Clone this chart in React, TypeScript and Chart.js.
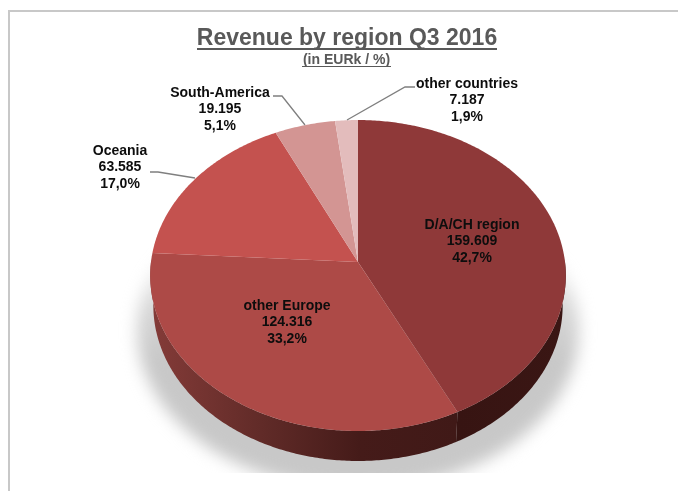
import React, { useEffect, useRef } from "react";
import { Chart, registerables } from "chart.js";

Chart.register(...registerables);

const regions = ["D/A/CH region", "other Europe", "Oceania", "South-America", "other countries"];
const revenue = [159609, 124316, 63585, 19195, 7187];
const revenueLabels = ["159.609", "124.316", "63.585", "19.195", "7.187"];
const percentLabels = ["42,7%", "33,2%", "17,0%", "5,1%", "1,9%"];
const sliceColors = ["#8F3939", "#AD4A47", "#C4524F", "#D39593", "#E3BCBC"];

const chartTitle = "Revenue by region Q3 2016";
const chartSubtitle = "(in EURk / %)";

const labelCenters = [
  [472, 224],
  [287, 305],
  [120, 150],
  [220, 92],
  [467, 83],
];
const leaderLines = [
  null,
  null,
  [[150, 172], [158, 172], [195, 178]],
  [[273, 96], [282, 96], [305, 125]],
  [[415, 87], [405, 87], [347, 120]],
];

const TILT = 0.7454;
const PERSPECTIVE = 0.0868;
const DEPTH = 30;

function project(arc: any, theta: number, dy = 0, shrink = 1) {
  const u = Math.cos(theta);
  const v = Math.sin(theta);
  const s = 1 / (1 - PERSPECTIVE * v);
  return {
    x: arc.x + arc.outerRadius * shrink * u * s,
    y: arc.y + arc.outerRadius * TILT * v * s + dy,
  };
}

function tracePath(ctx: CanvasRenderingContext2D, arc: any, from: number, to: number, dy = 0, shrink = 1, move = true) {
  const n = Math.max(2, Math.ceil(Math.abs(to - from) * 90));
  for (let i = 0; i <= n; i++) {
    const p = project(arc, from + ((to - from) * i) / n, dy, shrink);
    if (i === 0 && move) ctx.moveTo(p.x, p.y);
    else ctx.lineTo(p.x, p.y);
  }
}

const pie3d = {
  id: "pie3d",
  beforeDatasetDraw(chart: any, args: any) {
    const ctx: CanvasRenderingContext2D = chart.ctx;
    const arcs = args.meta.data;
    const first = arcs[0];

    // soft drop shadow under the disc
    ctx.save();
    ctx.beginPath();
    ctx.rect(0, 0, chart.width, 473);
    ctx.clip();
    ctx.filter = "blur(8px)";
    const shade = ctx.createLinearGradient(0, 250, 0, 360);
    shade.addColorStop(0, "rgba(200,200,200,0)");
    shade.addColorStop(0.5, "rgba(200,200,200,0.7)");
    shade.addColorStop(1, "rgba(200,200,200,1)");
    ctx.fillStyle = shade;
    ctx.beginPath();
    ctx.ellipse(first.x, first.y + 68, first.outerRadius + 14, first.outerRadius * TILT + 5, 0, 0, Math.PI * 2);
    ctx.fill();
    ctx.restore();

    // side wall
    const wallStops = [
      [[0, "#3A1614"], [1, "#371412"]],
      [[0, "#401917"], [0.32, "#451B19"], [0.62, "#5F2A27"], [1, "#843B38"]],
    ];
    arcs.forEach((arc: any, i: number) => {
      const from = Math.max(arc.startAngle, 0 - 0.02);
      const to = Math.min(arc.endAngle, Math.PI + 0.02);
      if (to <= from || !wallStops[i]) return;
      const a = project(arc, from);
      const b = project(arc, to);
      const g = ctx.createLinearGradient(a.x, 0, b.x, 0);
      wallStops[i].forEach(([o, c]: any) => g.addColorStop(o, c));
      ctx.fillStyle = g;
      ctx.beginPath();
      tracePath(ctx, arc, from, to);
      tracePath(ctx, arc, to, from, DEPTH, 0.985, false);
      ctx.closePath();
      ctx.fill();
    });

    // top faces, from the angles the pie controller computed
    arcs.forEach((arc: any) => {
      ctx.fillStyle = arc.options.backgroundColor;
      ctx.beginPath();
      ctx.moveTo(arc.x, arc.y);
      tracePath(ctx, arc, arc.startAngle, arc.endAngle, 0, 1, false);
      ctx.closePath();
      ctx.fill();
    });
    return false;
  },
  afterDraw(chart: any) {
    const ctx: CanvasRenderingContext2D = chart.ctx;
    ctx.save();
    ctx.textAlign = "center";
    ctx.textBaseline = "alphabetic";

    ctx.fillStyle = "#595959";
    ctx.font = 'bold 23px "Liberation Sans"';
    ctx.fillText(chartTitle, 347, 45);
    ctx.fillRect(197, 48, 300, 2);
    ctx.font = 'bold 14px "Liberation Sans"';
    ctx.fillText(chartSubtitle, 346.5, 64);
    ctx.fillRect(302, 66, 89, 1);

    ctx.strokeStyle = "#7F7F7F";
    ctx.lineWidth = 1.3;
    leaderLines.forEach((line) => {
      if (!line) return;
      ctx.beginPath();
      line.forEach(([x, y], i) => (i === 0 ? ctx.moveTo(x, y) : ctx.lineTo(x, y)));
      ctx.stroke();
    });

    ctx.fillStyle = "#0D0D0D";
    ctx.font = 'bold 14px "Liberation Sans"';
    regions.forEach((name, i) => {
      const [x, y] = labelCenters[i];
      [name, revenueLabels[i], percentLabels[i]].forEach((t, j) => {
        ctx.fillText(t, x, y + j * 16.3 + 5);
      });
    });
    ctx.restore();
  },
};

export default function App() {
  const ref = useRef<HTMLCanvasElement>(null);
  useEffect(() => {
    const chart = new Chart(ref.current!, {
      type: "pie",
      data: {
        labels: regions,
        datasets: [{ data: revenue, backgroundColor: sliceColors, borderWidth: 0 }],
      },
      options: {
        animation: false,
        responsive: false,
        events: [],
        layout: { padding: { left: 151, right: 113, top: 55, bottom: 22 } },
        plugins: { legend: { display: false }, tooltip: { enabled: false }, title: { display: false } },
      },
      plugins: [pie3d],
    });
    return () => chart.destroy();
  }, []);
  return (
    <div style={{ position: "fixed", left: 0, top: 0, width: 678, height: 491, overflow: "hidden", background: "#fff" }}>
      <canvas ref={ref} width={678} height={491} style={{ display: "block", filter: "blur(0.45px)" }} />
      <div style={{ position: "absolute", left: 8, top: 10, right: 0, bottom: 0, borderTop: "2px solid #C8C8C8", borderLeft: "2px solid #C8C8C8" }} />
    </div>
  );
}
